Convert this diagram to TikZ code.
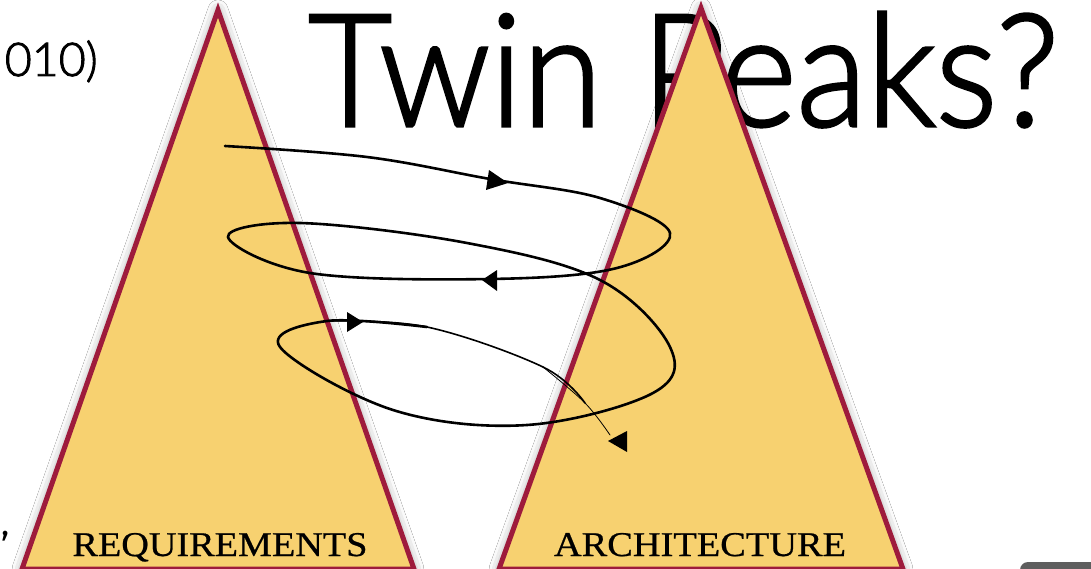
\documentclass[tikz,border=0pt]{standalone}
\usepackage{fontspec}
\usetikzlibrary{shadows.blur}
\IfFontExistsTF{Lato Light}{\newfontfamily\titlefont[FakeBold=2]{Lato Light}}{%
  \IfFontExistsTF{Open Sans Light}{\newfontfamily\titlefont{Open Sans Light}}{\newfontfamily\titlefont{Fira Sans}}}
\newfontfamily\commafont{Fira Sans}
\newfontfamily\labelfont[FakeBold=0.6]{Liberation Serif}
\definecolor{peakfill}{HTML}{F7D170}
\definecolor{peakline}{HTML}{9E1B3C}
\definecolor{btngray}{HTML}{5E5E5E}
\tikzset{
  peak/.style={fill=peakfill, draw=peakline, line width=5pt, line join=miter,
    blur shadow={shadow xshift=0pt, shadow yshift=0pt, shadow blur radius=10pt, shadow opacity=40}},
  spiral/.style={line width=2.6pt, black, line cap=round},
  tipmark/.style={fill=black},
  peaklabel/.style={anchor=base, inner sep=0pt}
}
\begin{document}
\begin{tikzpicture}[x=1pt, y=-1pt]
\useasboundingbox (0,0) rectangle (1091,569);
\fill[white] (0,0) rectangle (1091,569);
% side texts
\node[anchor=base east, inner sep=0pt] (year) at (98,76) {\resizebox{93pt}{!}{\fontsize{48}{50}\selectfont\titlefont 010)}};
\node[anchor=base west, inner sep=0pt] (comma) at (1,535) {\fontsize{34}{36}\selectfont\commafont ,};
% title
\node[anchor=base west, inner sep=0pt] (title) at (308,126) {\resizebox{750pt}{114pt}{\titlefont Twin Peaks?}};
% triangles
\path[peak] (218,10) -- (414,569) -- (22,569) -- cycle;
\path[peak] (701,8) -- (903,569) -- (499,569) -- cycle;
% labels
\node[peaklabel] (req) at (220,556) {\resizebox{295pt}{23pt}{\labelfont REQUIREMENTS}};
\node[peaklabel] (arch) at (700,556) {\resizebox{292pt}{23pt}{\labelfont ARCHITECTURE}};
% spiral
\draw[spiral] plot[smooth, tension=0.6] coordinates {
 (225,146) (367,157) (490,179) (600,198) (670,233) (617,268) (490,279) (310,273)
 (228,237) (300,223) (467,243) (600,280) (670,347) (653,393) (527,425) (393,410)
 (280,347) (327,321) (427,327)};
\draw[line width=1.6pt, line cap=round] plot[smooth, tension=0.6] coordinates {
 (327,321) (427,327) (543,367) (585,403)};
\draw[line width=0.8pt, line cap=round] plot[smooth, tension=0.6] coordinates {
 (543,367) (585,403) (610,435)};
% arrow heads
\fill[tipmark] (508,183) -- (489,170) -- (486,190) -- cycle;
\fill[tipmark] (482,280) -- (497,270) -- (497,291) -- cycle;
\fill[tipmark] (363,322) -- (347,312) -- (347,332) -- cycle;
\fill[tipmark] (608,441) -- (627,431) -- (627,452) -- cycle;
% button corner
\fill[btngray, rounded corners=8pt] (1020,580) -- (1020,562) -- (1100,562) -- (1100,580) -- cycle;
\end{tikzpicture}
\end{document}
